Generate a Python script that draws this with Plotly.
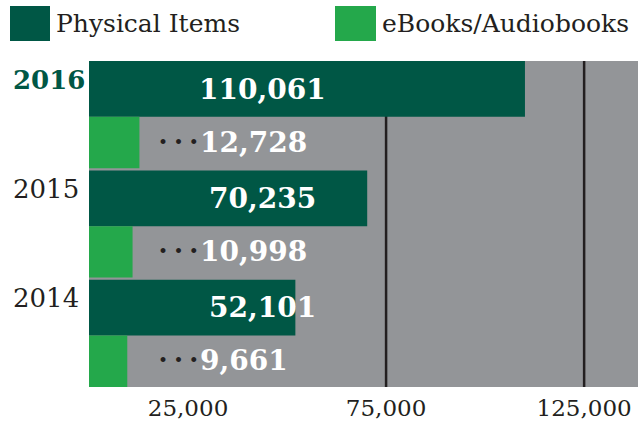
import plotly.graph_objects as go

# ---- data ----
years = ["2016", "2015", "2014"]
physical_items = [110061, 70235, 52101]
ebooks_audiobooks = [12728, 10998, 9661]
series_names = ["Physical Items", "eBooks/Audiobooks"]
tick_values = [25000, 75000, 125000]
tick_labels = ["25,000", "75,000", "125,000"]
rule_values = [75000, 125000]
highlight_year = "2016"

# ---- style ----
DARK = "#005745"
LIGHT = "#24a84b"
GRAY = "#939598"
INK = "#231f20"
FONT = "DejaVu Serif"

W, H = 638, 423
ML, MR, MT, MB = 89, 0, 61, 36
PW, PH = W - ML - MR, H - MT - MB
X_MAX = 138600


def px_x(px):
    """Pixel column -> paper x."""
    return (px - ML) / PW


def px_y(py):
    """Pixel row -> paper y."""
    return (H - MB - py) / PH


def fmt(v):
    return f"{v:,}"


fig = go.Figure()

fig.add_trace(go.Bar(
    y=years, x=physical_items, orientation="h",
    name=series_names[0], marker=dict(color=DARK, line=dict(width=0)),
    width=0.51, offset=-0.5, hoverinfo="x+name",
))
fig.add_trace(go.Bar(
    y=years, x=ebooks_audiobooks, orientation="h",
    name=series_names[1], marker=dict(color=LIGHT, line=dict(width=0)),
    width=0.47, offset=0.01, hoverinfo="x+name",
))

shapes = []
annotations = []

# vertical reference rules behind the bars
for v in rule_values:
    shapes.append(dict(type="line", xref="x", yref="paper", x0=v, x1=v, y0=0, y1=1,
                       line=dict(color=INK, width=2.5), layer="between"))

# legend swatches and labels
legend_items = [(series_names[0], DARK, 10, 50, 56), (series_names[1], LIGHT, 335, 376, 382)]
for name, color, sx0, sx1, tx in legend_items:
    shapes.append(dict(type="rect", xref="paper", yref="paper",
                       x0=px_x(sx0), x1=px_x(sx1), y0=px_y(41), y1=px_y(6),
                       fillcolor=color, line=dict(width=0), layer="above"))
    annotations.append(dict(xref="paper", yref="paper", x=px_x(tx - 2), y=px_y(23),
                            xanchor="left", yanchor="middle", showarrow=False,
                            text=name, font=dict(family=FONT, size=25, color=INK)))

# year labels (category index positions on the y axis)
for i, yr in enumerate(years):
    hl = yr == highlight_year
    annotations.append(dict(xref="paper", yref="y", x=px_x(11), y=i, yshift=36,
                            xanchor="left", yanchor="middle", showarrow=False,
                            text=yr,
                            font=dict(family=FONT, size=26,
                                      color=DARK if hl else INK,
                                      weight="bold" if hl else "normal")))

# value labels
DOTS = "• • •"
for i, (p, e) in enumerate(zip(physical_items, ebooks_audiobooks)):
    annotations.append(dict(xref="paper", yref="y", x=px_x(262), y=i, yshift=26.5,
                            xanchor="center", yanchor="middle", showarrow=False,
                            text=fmt(p),
                            font=dict(family=FONT, size=28, color="white", weight="bold")))
    annotations.append(dict(xref="paper", yref="y", x=px_x(198), y=i, yshift=-26.5,
                            xanchor="left", yanchor="middle", showarrow=False,
                            text=fmt(e),
                            font=dict(family=FONT, size=28, color="white", weight="bold")))
    annotations.append(dict(xref="paper", yref="y", x=px_x(201), y=i, yshift=-26,
                            xanchor="right", yanchor="middle", showarrow=False,
                            text=DOTS,
                            font=dict(family=FONT, size=17, color=INK)))

fig.update_layout(
    width=W, height=H,
    margin=dict(l=ML, r=MR, t=MT, b=MB, pad=0),
    paper_bgcolor="white", plot_bgcolor=GRAY,
    barmode="overlay", showlegend=False,
    shapes=shapes, annotations=annotations,
    xaxis=dict(range=[0, X_MAX], tickvals=tick_values, ticktext=tick_labels,
               showgrid=False, zeroline=False, showline=False, ticks="",
               ticklabelstandoff=5,
               tickfont=dict(family=FONT, size=23, color=INK), fixedrange=True),
    yaxis=dict(type="category", categoryorder="array", categoryarray=years,
               range=[2.48, -0.5], showticklabels=False, showgrid=False,
               zeroline=False, ticks="", fixedrange=True),
)

fig.write_html("out.html")
